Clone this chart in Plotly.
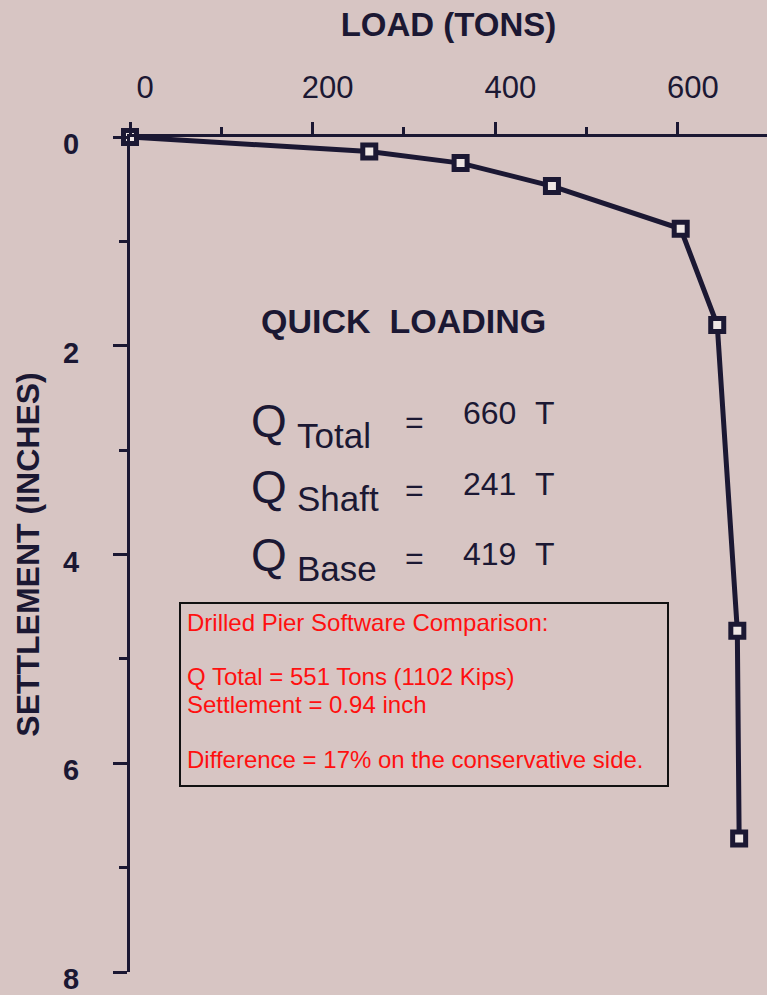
import plotly.graph_objects as go

# ---- data ----
load_tons = [0, 262, 362, 462, 603, 643, 665, 667]
settlement_in = [0, 0.14, 0.25, 0.47, 0.88, 1.80, 4.73, 6.72]

x_tickvals = [0, 200, 400, 600]
x_ticktext = ["0", "200", "400", "600"]
y_tickvals = [0, 2, 4, 6, 8]
y_ticktext = ["0", "2", "4", "6", "8"]

q_labels = ["Total", "Shaft", "Base"]
q_values = ["660", "241", "419"]

box_lines = [
    "Drilled Pier Software Comparison:",
    "Q Total = 551 Tons (1102 Kips)",
    "Settlement = 0.94 inch",
    "Difference = 17% on the conservative side.",
]

# ---- style ----
W, H = 767, 995
L, R, T, B = 130, 0, 137, 23
BG = "#d7c5c3"
INK = "#1b1833"
FONT = "Liberation Sans, Arial, Helvetica, sans-serif"


def paper(px, py):
    return (px - L) / (W - L - R), 1 - (py - T) / (H - T - B)


fig = go.Figure()
fig.add_trace(go.Scatter(
    x=load_tons, y=settlement_in, mode="lines+markers",
    line=dict(color=INK, width=5),
    marker=dict(symbol="square", size=13, color="#eee6e4",
                line=dict(color=INK, width=5)),
    cliponaxis=False, showlegend=False, hoverinfo="skip",
))

annotations = []


def ann(text, px, py, size, xanchor="center", yanchor="middle", color=INK, bold=False):
    xp, yp = paper(px, py)
    annotations.append(dict(
        text=text, x=xp, y=yp, xref="paper", yref="paper",
        xanchor=xanchor, yanchor=yanchor, showarrow=False,
        font=dict(family=FONT, size=size, color=color,
                  weight="bold" if bold else "normal"),
    ))


ann("QUICK  LOADING", 403, 321, 34, bold=True)

rows_y = [(421, 435, 422, 413), (487, 498, 490, 484), (555, 568, 558, 554)]
for lab, val, (qy, ly, ey, vy) in zip(q_labels, q_values, rows_y):
    ann("Q", 269, qy, 46)
    ann(lab, 295, ly, 35, xanchor="left")
    ann("=", 414, ey, 32)
    ann(val, 461, vy, 32, xanchor="left")
    ann("T", 545, vy, 32)

# comparison box text (red)
box_y = [622, 676, 704, 759]
for txt, yy in zip(box_lines, box_y):
    ann(txt, 185, yy, 24, xanchor="left", color="#ff1010")

x0, y0 = paper(180, 603)
x1, y1 = paper(668, 786)
shapes = [dict(type="rect", xref="paper", yref="paper", x0=x0, y0=y0, x1=x1, y1=y1,
               line=dict(color="#111111", width=2), fillcolor="rgba(0,0,0,0)")]

fig.update_layout(
    width=W, height=H,
    margin=dict(l=L, r=R, t=T, b=B, pad=0, autoexpand=False),
    paper_bgcolor=BG, plot_bgcolor=BG,
    font=dict(family=FONT, color=INK),
    annotations=annotations, shapes=shapes,
    xaxis=dict(
        side="top", range=[0, 697.5], showgrid=False, zeroline=False, automargin=False,
        showline=True, linecolor=INK, linewidth=3,
        ticks="outside", ticklen=12, tickwidth=3, tickcolor=INK,
        tickvals=x_tickvals, ticktext=x_ticktext,
        tickfont=dict(size=31, color=INK, family=FONT),
        ticklabelstandoff=12, ticklabelshift=15,
        minor=dict(dtick=100, ticks="outside", ticklen=7, tickwidth=3, tickcolor=INK, showgrid=False),
        title=dict(text="LOAD (TONS)", font=dict(size=33, color=INK, family=FONT, weight="bold"), standoff=24),
    ),
    yaxis=dict(
        range=[8, 0], showgrid=False, zeroline=False, automargin=False,
        showline=True, linecolor=INK, linewidth=3,
        ticks="outside", ticklen=14, tickwidth=3, tickcolor=INK,
        tickvals=y_tickvals, ticktext=y_ticktext,
        tickfont=dict(size=29, color=INK, family=FONT, weight="bold"),
        ticklabelstandoff=28, ticklabelshift=-7, ticklabeloverflow="allow",
        minor=dict(dtick=1, ticks="outside", ticklen=8, tickwidth=3, tickcolor=INK, showgrid=False),
        title=dict(text="SETTLEMENT (INCHES)", font=dict(size=32, color=INK, family=FONT, weight="bold"), standoff=14),
    ),
)

fig.write_html("out.html", config={"displayModeBar": False},
               post_script="document.body.style.margin='0';document.body.style.background='%s';" % BG)
